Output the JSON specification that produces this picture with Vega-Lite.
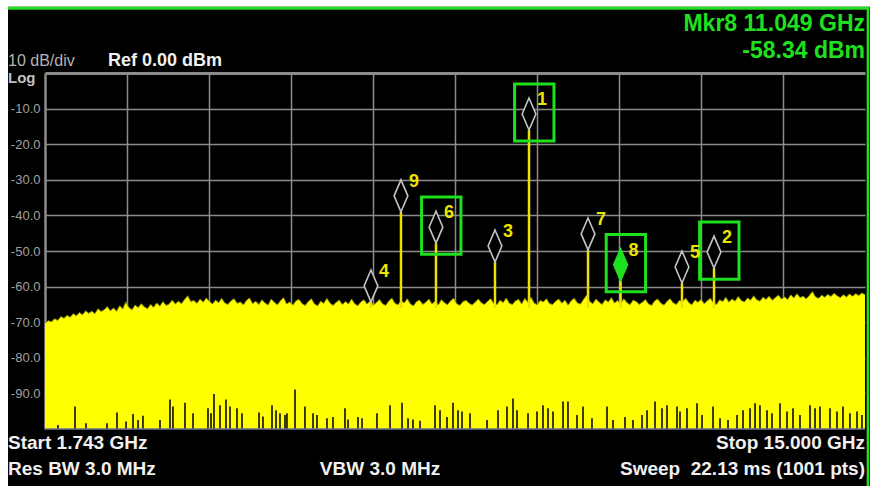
{
 "$schema": "https://vega.github.io/schema/vega-lite/v6.json",
 "width": 820,
 "height": 356,
 "autosize": {"type": "none"},
 "padding": {"left": 45, "top": 73, "right": 5, "bottom": 57},
 "background": "black",
 "view": {"fill": "black", "stroke": null},
 "config": {"font": "Liberation Sans"},
 "resolve": {"axis": {"x": "independent", "y": "independent"}},
 "datasets": {
  "noise": [
   {"f":1.743,"v":-70.2},{"f":1.80,"v":-69.6},{"f":1.85,"v":-69.9},{"f":1.90,"v":-69.0},{"f":1.95,"v":-69.5},
   {"f":2.00,"v":-68.4},{"f":2.05,"v":-68.9},{"f":2.10,"v":-68.1},{"f":2.15,"v":-68.6},{"f":2.20,"v":-67.6},
   {"f":2.25,"v":-68.2},{"f":2.30,"v":-67.3},{"f":2.35,"v":-67.9},{"f":2.40,"v":-66.8},{"f":2.45,"v":-67.5},
   {"f":2.50,"v":-66.9},{"f":2.55,"v":-67.6},{"f":2.60,"v":-66.2},{"f":2.65,"v":-67.0},{"f":2.70,"v":-66.5},
   {"f":2.75,"v":-65.6},{"f":2.80,"v":-66.8},{"f":2.85,"v":-66.0},{"f":2.90,"v":-66.9},{"f":2.95,"v":-65.4},
   {"f":3.00,"v":-66.3},{"f":3.05,"v":-64.3},{"f":3.10,"v":-65.9},{"f":3.15,"v":-66.5},{"f":3.20,"v":-65.2},
   {"f":3.25,"v":-65.9},{"f":3.30,"v":-64.8},{"f":3.35,"v":-65.7},{"f":3.40,"v":-66.2},{"f":3.45,"v":-65.0},
   {"f":3.50,"v":-65.8},{"f":3.55,"v":-64.6},{"f":3.60,"v":-65.5},{"f":3.65,"v":-64.2},{"f":3.70,"v":-65.3},
   {"f":3.75,"v":-64.9},{"f":3.80,"v":-63.8},{"f":3.85,"v":-64.9},{"f":3.90,"v":-64.1},{"f":3.95,"v":-64.8},
   {"f":4.00,"v":-63.6},{"f":4.05,"v":-62.6},{"f":4.10,"v":-64.2},{"f":4.15,"v":-63.9},{"f":4.20,"v":-64.7},
   {"f":4.25,"v":-63.5},{"f":4.30,"v":-64.4},{"f":4.35,"v":-63.2},{"f":4.40,"v":-64.1},{"f":4.45,"v":-64.9},
   {"f":4.50,"v":-63.8},{"f":4.55,"v":-64.5},{"f":4.60,"v":-63.3},{"f":4.65,"v":-64.6},{"f":4.70,"v":-65.0},
   {"f":4.75,"v":-64.0},{"f":4.80,"v":-63.4},{"f":4.85,"v":-64.7},{"f":4.90,"v":-64.3},{"f":4.95,"v":-65.1},
   {"f":5.00,"v":-63.9},{"f":5.05,"v":-63.2},{"f":5.10,"v":-64.8},{"f":5.15,"v":-64.1},{"f":5.20,"v":-65.0},
   {"f":5.25,"v":-63.7},{"f":5.30,"v":-64.6},{"f":5.35,"v":-65.2},{"f":5.40,"v":-63.5},{"f":5.45,"v":-64.4},
   {"f":5.50,"v":-65.1},{"f":5.55,"v":-64.0},{"f":5.60,"v":-63.1},{"f":5.65,"v":-64.9},{"f":5.70,"v":-64.3},
   {"f":5.75,"v":-65.2},{"f":5.80,"v":-64.0},{"f":5.85,"v":-63.6},{"f":5.90,"v":-64.8},{"f":5.95,"v":-65.3},
   {"f":6.00,"v":-64.2},{"f":6.05,"v":-63.4},{"f":6.10,"v":-64.9},{"f":6.15,"v":-65.4},{"f":6.20,"v":-64.1},
   {"f":6.25,"v":-64.7},{"f":6.30,"v":-63.3},{"f":6.35,"v":-64.6},{"f":6.40,"v":-65.3},{"f":6.45,"v":-64.4},
   {"f":6.50,"v":-63.8},{"f":6.55,"v":-65.0},{"f":6.60,"v":-64.2},{"f":6.65,"v":-64.9},{"f":6.70,"v":-63.5},
   {"f":6.75,"v":-64.8},{"f":6.80,"v":-65.4},{"f":6.85,"v":-64.3},{"f":6.90,"v":-63.7},{"f":6.95,"v":-64.9},
   {"f":7.00,"v":-64.0},{"f":7.05,"v":-65.2},{"f":7.10,"v":-64.5},{"f":7.15,"v":-63.6},{"f":7.20,"v":-64.8},
   {"f":7.25,"v":-65.3},{"f":7.30,"v":-64.1},{"f":7.35,"v":-63.2},{"f":7.40,"v":-64.7},{"f":7.45,"v":-65.1},
   {"f":7.50,"v":-64.0},{"f":7.55,"v":-64.6},{"f":7.60,"v":-63.4},{"f":7.65,"v":-64.9},{"f":7.70,"v":-65.4},
   {"f":7.75,"v":-64.2},{"f":7.80,"v":-63.8},{"f":7.85,"v":-65.0},{"f":7.90,"v":-64.4},{"f":7.95,"v":-63.5},
   {"f":8.00,"v":-64.9},{"f":8.05,"v":-64.1},{"f":8.10,"v":-65.2},{"f":8.15,"v":-63.7},{"f":8.20,"v":-64.5},
   {"f":8.25,"v":-65.1},{"f":8.30,"v":-64.0},{"f":8.35,"v":-63.3},{"f":8.40,"v":-64.8},{"f":8.45,"v":-65.3},
   {"f":8.50,"v":-64.2},{"f":8.55,"v":-63.9},{"f":8.60,"v":-64.7},{"f":8.65,"v":-65.2},{"f":8.70,"v":-64.3},
   {"f":8.75,"v":-63.5},{"f":8.80,"v":-64.6},{"f":8.85,"v":-65.0},{"f":8.90,"v":-64.1},{"f":8.95,"v":-63.4},
   {"f":9.00,"v":-64.8},{"f":9.05,"v":-65.1},{"f":9.10,"v":-63.8},{"f":9.15,"v":-64.5},{"f":9.20,"v":-63.2},
   {"f":9.25,"v":-64.7},{"f":9.30,"v":-65.0},{"f":9.35,"v":-64.0},{"f":9.40,"v":-63.6},{"f":9.45,"v":-64.9},
   {"f":9.50,"v":-63.3},{"f":9.55,"v":-64.4},{"f":9.60,"v":-63.0},{"f":9.65,"v":-64.6},{"f":9.70,"v":-65.1},
   {"f":9.75,"v":-63.9},{"f":9.80,"v":-64.3},{"f":9.85,"v":-63.4},{"f":9.90,"v":-64.8},{"f":9.95,"v":-65.0},
   {"f":10.00,"v":-64.1},{"f":10.05,"v":-63.5},{"f":10.10,"v":-64.7},{"f":10.15,"v":-63.8},{"f":10.20,"v":-65.2},
   {"f":10.25,"v":-64.0},{"f":10.30,"v":-63.3},{"f":10.35,"v":-64.6},{"f":10.40,"v":-64.9},{"f":10.45,"v":-63.6},
   {"f":10.50,"v":-62.4},{"f":10.55,"v":-64.2},{"f":10.60,"v":-64.8},{"f":10.65,"v":-63.5},{"f":10.70,"v":-64.4},
   {"f":10.75,"v":-65.0},{"f":10.80,"v":-63.7},{"f":10.85,"v":-64.3},{"f":10.90,"v":-63.1},{"f":10.95,"v":-64.6},
   {"f":11.00,"v":-63.9},{"f":11.05,"v":-64.8},{"f":11.10,"v":-63.4},{"f":11.15,"v":-64.5},{"f":11.20,"v":-65.1},
   {"f":11.25,"v":-63.8},{"f":11.30,"v":-64.2},{"f":11.35,"v":-65.0},{"f":11.40,"v":-64.4},{"f":11.45,"v":-63.6},
   {"f":11.50,"v":-64.9},{"f":11.55,"v":-65.3},{"f":11.60,"v":-64.0},{"f":11.65,"v":-63.5},{"f":11.70,"v":-64.7},
   {"f":11.75,"v":-65.2},{"f":11.80,"v":-64.1},{"f":11.85,"v":-63.4},{"f":11.90,"v":-64.6},{"f":11.95,"v":-65.0},
   {"f":12.00,"v":-63.9},{"f":12.05,"v":-64.3},{"f":12.10,"v":-63.2},{"f":12.15,"v":-64.5},{"f":12.20,"v":-65.1},
   {"f":12.25,"v":-63.8},{"f":12.30,"v":-64.4},{"f":12.35,"v":-63.6},{"f":12.40,"v":-64.8},{"f":12.45,"v":-64.0},
   {"f":12.50,"v":-63.3},{"f":12.55,"v":-64.6},{"f":12.60,"v":-65.0},{"f":12.65,"v":-63.7},{"f":12.70,"v":-64.2},
   {"f":12.75,"v":-63.0},{"f":12.80,"v":-64.4},{"f":12.85,"v":-63.5},{"f":12.90,"v":-64.1},{"f":12.95,"v":-62.8},
   {"f":13.00,"v":-63.9},{"f":13.05,"v":-64.3},{"f":13.10,"v":-63.2},{"f":13.15,"v":-63.8},{"f":13.20,"v":-62.6},
   {"f":13.25,"v":-63.7},{"f":13.30,"v":-64.1},{"f":13.35,"v":-63.0},{"f":13.40,"v":-63.6},{"f":13.45,"v":-62.7},
   {"f":13.50,"v":-63.8},{"f":13.55,"v":-63.1},{"f":13.60,"v":-62.4},{"f":13.65,"v":-63.5},{"f":13.70,"v":-62.9},
   {"f":13.75,"v":-63.6},{"f":13.80,"v":-62.3},{"f":13.85,"v":-63.2},{"f":13.90,"v":-62.0},{"f":13.95,"v":-63.1},
   {"f":14.00,"v":-62.7},{"f":14.05,"v":-63.4},{"f":14.10,"v":-62.5},{"f":14.15,"v":-61.4},{"f":14.20,"v":-62.9},
   {"f":14.25,"v":-63.3},{"f":14.30,"v":-62.4},{"f":14.35,"v":-63.0},{"f":14.40,"v":-62.2},{"f":14.45,"v":-62.8},
   {"f":14.50,"v":-61.9},{"f":14.55,"v":-62.6},{"f":14.60,"v":-63.1},{"f":14.65,"v":-62.3},{"f":14.70,"v":-62.9},
   {"f":14.75,"v":-62.1},{"f":14.80,"v":-62.7},{"f":14.85,"v":-62.0},{"f":14.90,"v":-62.5},{"f":14.95,"v":-61.8},
   {"f":15.00,"v":-62.3}
  ],
  "spikes": [
   {"f":1.953,"v":-98.9},{"f":2.228,"v":-93.7},{"f":2.406,"v":-98.4},{"f":2.745,"v":-98.4},{"f":2.907,"v":-95.4},
   {"f":3.053,"v":-97.9},{"f":3.166,"v":-95.8},{"f":3.247,"v":-97.5},{"f":3.327,"v":-96.3},{"f":3.602,"v":-97.5},
   {"f":3.764,"v":-91.7},{"f":3.812,"v":-93.7},{"f":4.006,"v":-92.6},{"f":4.136,"v":-95.6},{"f":4.378,"v":-94.2},
   {"f":4.427,"v":-95.6},{"f":4.475,"v":-90.2},{"f":4.572,"v":-93.3},{"f":4.669,"v":-91.7},{"f":4.734,"v":-93.7},
   {"f":4.847,"v":-94.2},{"f":4.928,"v":-95.6},{"f":5.203,"v":-95.4},{"f":5.267,"v":-96.5},{"f":5.413,"v":-93.3},
   {"f":5.478,"v":-94.7},{"f":5.542,"v":-95.6},{"f":5.623,"v":-96.1},{"f":5.655,"v":-95.6},{"f":5.785,"v":-88.9},
   {"f":5.946,"v":-93.7},{"f":6.076,"v":-95.6},{"f":6.140,"v":-96.1},{"f":6.302,"v":-97.0},{"f":6.399,"v":-96.6},
   {"f":6.593,"v":-94.2},{"f":6.642,"v":-97.3},{"f":6.803,"v":-96.6},{"f":6.868,"v":-97.0},{"f":7.110,"v":-95.6},
   {"f":7.321,"v":-93.3},{"f":7.515,"v":-92.6},{"f":7.612,"v":-97.0},{"f":7.692,"v":-97.3},{"f":7.806,"v":-97.7},
   {"f":8.048,"v":-93.3},{"f":8.129,"v":-94.7},{"f":8.242,"v":-96.6},{"f":8.339,"v":-92.6},{"f":8.420,"v":-94.7},
   {"f":8.485,"v":-95.1},{"f":8.614,"v":-95.6},{"f":8.889,"v":-97.5},{"f":9.067,"v":-94.7},{"f":9.212,"v":-93.7},
   {"f":9.309,"v":-91.4},{"f":9.374,"v":-94.7},{"f":9.552,"v":-95.6},{"f":9.697,"v":-95.1},{"f":9.794,"v":-93.3},
   {"f":9.875,"v":-94.2},{"f":9.956,"v":-95.1},{"f":10.118,"v":-92.3},{"f":10.198,"v":-92.3},{"f":10.344,"v":-96.1},
   {"f":10.441,"v":-93.7},{"f":10.586,"v":-97.0},{"f":10.829,"v":-93.7},{"f":10.926,"v":-97.5},{"f":11.120,"v":-96.6},
   {"f":11.249,"v":-97.5},{"f":11.395,"v":-96.1},{"f":11.476,"v":-94.7},{"f":11.605,"v":-92.3},{"f":11.718,"v":-94.2},
   {"f":11.799,"v":-93.3},{"f":11.961,"v":-93.7},{"f":12.009,"v":-95.1},{"f":12.122,"v":-94.2},{"f":12.284,"v":-92.8},
   {"f":12.365,"v":-96.1},{"f":12.543,"v":-93.7},{"f":12.656,"v":-97.0},{"f":12.785,"v":-97.5},{"f":12.931,"v":-96.1},
   {"f":13.028,"v":-94.7},{"f":13.141,"v":-94.2},{"f":13.222,"v":-92.8},{"f":13.302,"v":-93.3},{"f":13.416,"v":-94.7},
   {"f":13.496,"v":-95.6},{"f":13.626,"v":-92.8},{"f":13.739,"v":-95.1},{"f":13.836,"v":-94.2},{"f":13.949,"v":-96.1},
   {"f":14.111,"v":-93.3},{"f":14.192,"v":-94.2},{"f":14.272,"v":-93.7},{"f":14.434,"v":-94.2},{"f":14.547,"v":-95.1},
   {"f":14.644,"v":-93.7},{"f":14.757,"v":-95.6},{"f":14.871,"v":-95.1},{"f":14.951,"v":-96.1}
  ],
  "markers": [
   {"m":"1","f":9.568,"v":-16.0,"box":true},
   {"m":"2","f":12.559,"v":-54.8,"box":true},
   {"m":"3","f":9.018,"v":-53.1,"box":false},
   {"m":"4","f":7.013,"v":-64.3,"box":false},
   {"m":"5","f":12.041,"v":-59.0,"box":false},
   {"m":"6","f":8.064,"v":-47.8,"box":true},
   {"m":"7","f":10.522,"v":-49.7,"box":false},
   {"m":"8","f":11.049,"v":-58.34,"box":true},
   {"m":"9","f":7.498,"v":-39.0,"box":false}
  ]
 },
 "layer": [
  {
   "data": {"name": "noise"},
   "mark": {"type": "area", "color": "#ffff00", "interpolate": "linear"},
   "encoding": {
    "x": {"field": "f", "type": "quantitative", "scale": {"domain": [1.743, 15], "nice": false, "zero": false},
     "axis": {"orient": "top", "title": null, "labels": false, "ticks": false, "domain": true, "domainColor": "#8c8c8c", "domainWidth": 3,
      "grid": true, "gridColor": "#8c8c8c", "gridWidth": 1.5,
      "values": [3.0687, 4.3944, 5.7201, 7.0458, 8.3715, 9.6972, 11.0229, 12.3486, 13.6743]}},
    "y": {"field": "v", "type": "quantitative", "scale": {"domain": [-100, 0], "nice": false, "zero": false},
     "axis": {"orient": "left", "title": null, "ticks": false, "domain": true, "domainColor": "#8c8c8c", "domainWidth": 2.5,
      "grid": true, "gridColor": "#8c8c8c", "gridWidth": 1.5,
      "values": [-90, -80, -70, -60, -50, -40, -30, -20, -10],
      "labelColor": "#a0a0a0", "labelFontSize": 13, "labelPadding": 5, "labelFont": "Liberation Sans",
      "labelExpr": "'-' + format(abs(datum.value), '.1f')"}},
    "y2": {"datum": -100}
   }
  },
  {
   "data": {"name": "noise"},
   "mark": {"type": "line", "stroke": "#8a8a00", "strokeWidth": 1, "interpolate": "linear"},
   "encoding": {
    "x": {"field": "f", "type": "quantitative", "scale": {"domain": [1.743, 15], "nice": false, "zero": false}, "axis": null},
    "y": {"field": "v", "type": "quantitative", "scale": {"domain": [-100, 0], "nice": false, "zero": false}, "axis": null}
   }
  },
  {
   "data": {"values": [{}]},
   "mark": {"type": "rect", "fill": "white"},
   "encoding": {
    "x": {"datum": 0.5, "type": "quantitative", "scale": {"domain": [1.743, 15], "nice": false, "zero": false}, "axis": null},
    "x2": {"datum": 15.6},
    "y": {"datum": 26, "type": "quantitative", "scale": {"domain": [-100, 0], "nice": false, "zero": false}, "axis": null},
    "y2": {"datum": 18.6}
   }
  },
  {
   "data": {"values": [{}]},
   "mark": {"type": "rect", "fill": "white"},
   "encoding": {
    "x": {"datum": 0.5, "type": "quantitative", "scale": {"domain": [1.743, 15], "nice": false, "zero": false}, "axis": null},
    "x2": {"datum": 1.145},
    "y": {"datum": 26, "type": "quantitative", "scale": {"domain": [-100, 0], "nice": false, "zero": false}, "axis": null},
    "y2": {"datum": -130}
   }
  },
  {
   "data": {"values": [{}]},
   "mark": {"type": "rule", "stroke": "#22dd22", "strokeWidth": 3},
   "encoding": {
    "x": {"datum": 1.145, "type": "quantitative", "scale": {"domain": [1.743, 15], "nice": false, "zero": false}, "axis": null},
    "x2": {"datum": 15.07},
    "y": {"datum": 18.2, "type": "quantitative", "scale": {"domain": [-100, 0], "nice": false, "zero": false}, "axis": null}
   }
  },
  {
   "data": {"values": [{}]},
   "mark": {"type": "rule", "stroke": "#22dd22", "strokeWidth": 2.6},
   "encoding": {
    "x": {"datum": 15.048, "type": "quantitative", "scale": {"domain": [1.743, 15], "nice": false, "zero": false}, "axis": null},
    "y": {"datum": 18.6, "type": "quantitative", "scale": {"domain": [-100, 0], "nice": false, "zero": false}, "axis": null},
    "y2": {"datum": -130}
   }
  },
  {
   "data": {"name": "spikes"},
   "mark": {"type": "rule", "stroke": "#0c0c00", "strokeWidth": 1.6},
   "encoding": {
    "x": {"field": "f", "type": "quantitative", "scale": {"domain": [1.743, 15], "nice": false, "zero": false}, "axis": null},
    "y": {"field": "v", "type": "quantitative", "scale": {"domain": [-100, 0], "nice": false, "zero": false}, "axis": null},
    "y2": {"datum": -100}
   }
  },
  {
   "data": {"values": [{}]},
   "mark": {"type": "rule", "stroke": "#707090", "strokeWidth": 1.5},
   "encoding": {
    "y": {"datum": -100, "type": "quantitative", "scale": {"domain": [-100, 0], "nice": false, "zero": false}, "axis": null}
   }
  },
  {
   "data": {"name": "markers"},
   "mark": {"type": "rule", "stroke": "#eee000", "strokeWidth": 2.5},
   "encoding": {
    "x": {"field": "f", "type": "quantitative", "scale": {"domain": [1.743, 15], "nice": false, "zero": false}, "axis": null},
    "y": {"field": "v", "type": "quantitative", "scale": {"domain": [-100, 0], "nice": false, "zero": false}, "axis": null},
    "y2": {"datum": -66}
   }
  },
  {
   "data": {"name": "markers"},
   "mark": {"type": "point", "shape": "M0,0L-0.43,-1L0,-2L0.43,-1Z", "size": 1024, "filled": true, "opacity": 1, "strokeWidth": 1.6},
   "encoding": {
    "x": {"field": "f", "type": "quantitative", "scale": {"domain": [1.743, 15], "nice": false, "zero": false}, "axis": null},
    "y": {"field": "v", "type": "quantitative", "scale": {"domain": [-100, 0], "nice": false, "zero": false}, "axis": null},
    "fill": {"condition": {"test": "datum.m === '8'", "value": "#1fe01f"}, "value": "black"},
    "stroke": {"condition": {"test": "datum.m === '8'", "value": "#1fe01f"}, "value": "#c4c4c4"}
   }
  },
  {
   "data": {"name": "markers"},
   "transform": [{"filter": "datum.box"}],
   "mark": {"type": "point", "shape": "M-0.9,-2.88H1.56V0.69H-0.9Z", "size": 1024, "filled": false, "opacity": 1, "stroke": "#1fe01f", "strokeWidth": 3},
   "encoding": {
    "x": {"field": "f", "type": "quantitative", "scale": {"domain": [1.743, 15], "nice": false, "zero": false}, "axis": null},
    "y": {"field": "v", "type": "quantitative", "scale": {"domain": [-100, 0], "nice": false, "zero": false}, "axis": null}
   }
  },
  {
   "data": {"name": "markers"},
   "mark": {"type": "text", "dx": 13, "dy": -30, "align": "center", "baseline": "middle", "fontSize": 18, "fontWeight": "bold", "color": "#ece400"},
   "encoding": {
    "x": {"field": "f", "type": "quantitative", "scale": {"domain": [1.743, 15], "nice": false, "zero": false}, "axis": null},
    "y": {"field": "v", "type": "quantitative", "scale": {"domain": [-100, 0], "nice": false, "zero": false}, "axis": null},
    "text": {"field": "m"}
   }
  },
  {
   "data": {"values": [{"t": "10 dB/div"}]},
   "mark": {"type": "text", "align": "left", "baseline": "middle", "dx": -37, "dy": -12, "fontSize": 16, "color": "#b4b4b4"},
   "encoding": {
    "x": {"datum": 1.743, "type": "quantitative", "scale": {"domain": [1.743, 15], "nice": false, "zero": false}, "axis": null},
    "y": {"datum": 0, "type": "quantitative", "scale": {"domain": [-100, 0], "nice": false, "zero": false}, "axis": null},
    "text": {"field": "t"}
   }
  },
  {
   "data": {"values": [{"t": "Log"}]},
   "mark": {"type": "text", "align": "left", "baseline": "middle", "dx": -37, "dy": 5, "fontSize": 15, "fontWeight": "bold", "color": "#c0c0c0"},
   "encoding": {
    "x": {"datum": 1.743, "type": "quantitative", "scale": {"domain": [1.743, 15], "nice": false, "zero": false}, "axis": null},
    "y": {"datum": 0, "type": "quantitative", "scale": {"domain": [-100, 0], "nice": false, "zero": false}, "axis": null},
    "text": {"field": "t"}
   }
  },
  {
   "data": {"values": [{"t": "Ref 0.00 dBm"}]},
   "mark": {"type": "text", "align": "left", "baseline": "middle", "dx": 63, "dy": -12, "fontSize": 18, "fontWeight": "bold", "color": "#f0f0f0"},
   "encoding": {
    "x": {"datum": 1.743, "type": "quantitative", "scale": {"domain": [1.743, 15], "nice": false, "zero": false}, "axis": null},
    "y": {"datum": 0, "type": "quantitative", "scale": {"domain": [-100, 0], "nice": false, "zero": false}, "axis": null},
    "text": {"field": "t"}
   }
  },
  {
   "data": {"values": [{"t": "Mkr8 11.049 GHz"}]},
   "mark": {"type": "text", "align": "right", "baseline": "middle", "dy": -49, "fontSize": 23, "fontWeight": "bold", "color": "#1fe01f"},
   "encoding": {
    "x": {"datum": 15, "type": "quantitative", "scale": {"domain": [1.743, 15], "nice": false, "zero": false}, "axis": null},
    "y": {"datum": 0, "type": "quantitative", "scale": {"domain": [-100, 0], "nice": false, "zero": false}, "axis": null},
    "text": {"field": "t"}
   }
  },
  {
   "data": {"values": [{"t": "-58.34 dBm"}]},
   "mark": {"type": "text", "align": "right", "baseline": "middle", "dy": -22, "fontSize": 23, "fontWeight": "bold", "color": "#1fe01f"},
   "encoding": {
    "x": {"datum": 15, "type": "quantitative", "scale": {"domain": [1.743, 15], "nice": false, "zero": false}, "axis": null},
    "y": {"datum": 0, "type": "quantitative", "scale": {"domain": [-100, 0], "nice": false, "zero": false}, "axis": null},
    "text": {"field": "t"}
   }
  },
  {
   "data": {"values": [{"t": "Start 1.743 GHz"}]},
   "mark": {"type": "text", "align": "left", "baseline": "middle", "dx": -37, "dy": 14, "fontSize": 19, "fontWeight": "bold", "color": "#f0f0f0"},
   "encoding": {
    "x": {"datum": 1.743, "type": "quantitative", "scale": {"domain": [1.743, 15], "nice": false, "zero": false}, "axis": null},
    "y": {"datum": -100, "type": "quantitative", "scale": {"domain": [-100, 0], "nice": false, "zero": false}, "axis": null},
    "text": {"field": "t"}
   }
  },
  {
   "data": {"values": [{"t": "Res BW 3.0 MHz"}]},
   "mark": {"type": "text", "align": "left", "baseline": "middle", "dx": -37, "dy": 40, "fontSize": 19, "fontWeight": "bold", "color": "#f0f0f0"},
   "encoding": {
    "x": {"datum": 1.743, "type": "quantitative", "scale": {"domain": [1.743, 15], "nice": false, "zero": false}, "axis": null},
    "y": {"datum": -100, "type": "quantitative", "scale": {"domain": [-100, 0], "nice": false, "zero": false}, "axis": null},
    "text": {"field": "t"}
   }
  },
  {
   "data": {"values": [{"t": "VBW 3.0 MHz"}]},
   "mark": {"type": "text", "align": "center", "baseline": "middle", "dx": 335, "dy": 40, "fontSize": 19, "fontWeight": "bold", "color": "#f0f0f0"},
   "encoding": {
    "x": {"datum": 1.743, "type": "quantitative", "scale": {"domain": [1.743, 15], "nice": false, "zero": false}, "axis": null},
    "y": {"datum": -100, "type": "quantitative", "scale": {"domain": [-100, 0], "nice": false, "zero": false}, "axis": null},
    "text": {"field": "t"}
   }
  },
  {
   "data": {"values": [{"t": "Stop 15.000 GHz"}]},
   "mark": {"type": "text", "align": "right", "baseline": "middle", "dy": 14, "fontSize": 19, "fontWeight": "bold", "color": "#f0f0f0"},
   "encoding": {
    "x": {"datum": 15, "type": "quantitative", "scale": {"domain": [1.743, 15], "nice": false, "zero": false}, "axis": null},
    "y": {"datum": -100, "type": "quantitative", "scale": {"domain": [-100, 0], "nice": false, "zero": false}, "axis": null},
    "text": {"field": "t"}
   }
  },
  {
   "data": {"values": [{"t": "Sweep\u00a0 22.13 ms (1001 pts)"}]},
   "mark": {"type": "text", "align": "right", "baseline": "middle", "dy": 40, "fontSize": 19, "fontWeight": "bold", "color": "#f0f0f0"},
   "encoding": {
    "x": {"datum": 15, "type": "quantitative", "scale": {"domain": [1.743, 15], "nice": false, "zero": false}, "axis": null},
    "y": {"datum": -100, "type": "quantitative", "scale": {"domain": [-100, 0], "nice": false, "zero": false}, "axis": null},
    "text": {"field": "t"}
   }
  }
 ]
}
